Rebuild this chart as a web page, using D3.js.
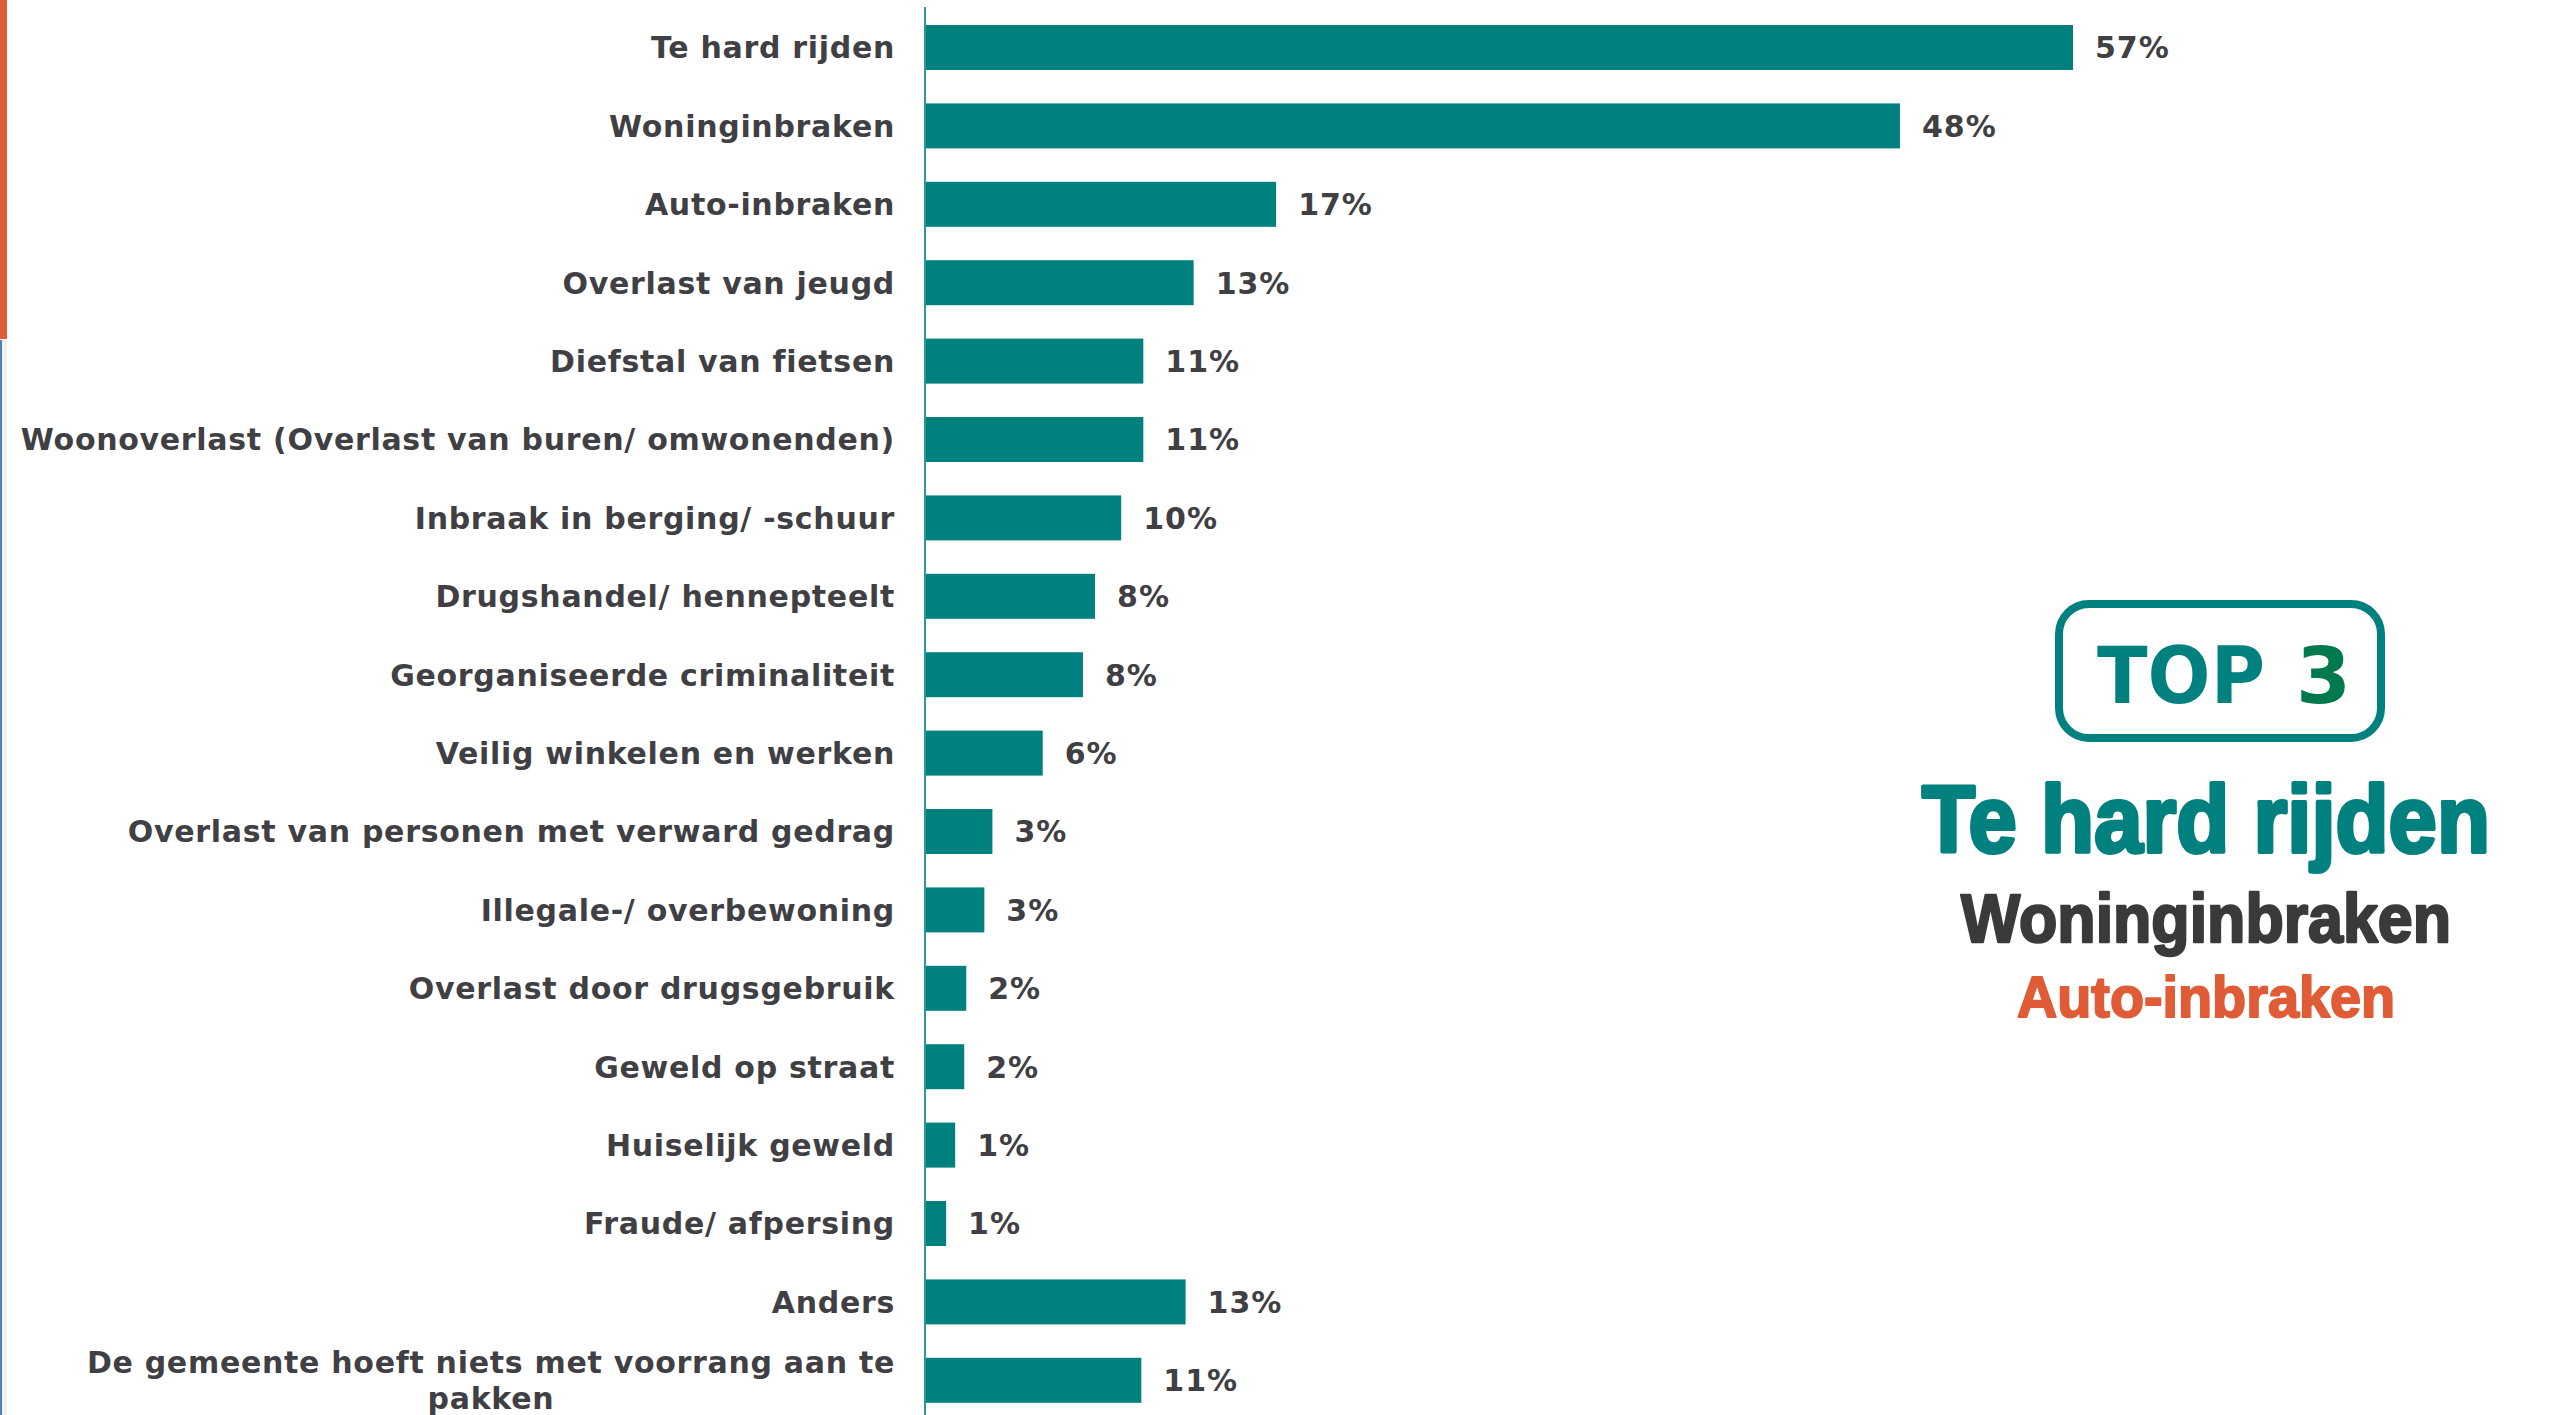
<!DOCTYPE html>
<html>
<head>
<meta charset="utf-8">
<script src="https://cdn.jsdelivr.net/npm/d3@7"></script>
<style>
  html, body { margin: 0; padding: 0; background: #fff; overflow: hidden; }
  svg { display: block; }
</style>
</head>
<body>
<div id="chart"></div>
<script>
// categories, top to bottom
const categories = [
    "Te hard rijden",
    "Woninginbraken",
    "Auto-inbraken",
    "Overlast van jeugd",
    "Diefstal van fietsen",
    "Woonoverlast (Overlast van buren/ omwonenden)",
    "Inbraak in berging/ -schuur",
    "Drugshandel/ hennepteelt",
    "Georganiseerde criminaliteit",
    "Veilig winkelen en werken",
    "Overlast van personen met verward gedrag",
    "Illegale-/ overbewoning",
    "Overlast door drugsgebruik",
    "Geweld op straat",
    "Huiselijk geweld",
    "Fraude/ afpersing",
    "Anders",
    "De gemeente hoeft niets met voorrang aan te pakken"
];

// percentages
const values = [57.0, 48.4, 17.4, 13.3, 10.8, 10.8, 9.7, 8.4, 7.8, 5.8, 3.3, 2.9, 2.0, 1.9, 1.45, 1.0, 12.9, 10.7];

// top 3 panel
const top3Title = ["TOP", "3"];
const top3Items = ["Te hard rijden", "Woninginbraken", "Auto-inbraken"];

const COLORS = {
    bar: "#00807f",
    axis: "#2a9a98",
    text: "#3f3f44",
    orange: "#e05c36",
    green: "#007a4d",
    dark: "#3a3a3a",
    edgeBlue: "#4f7fb8",
    edgeGray: "#f0f0f0"
};

const FONT = "'DejaVu Sans', Verdana, sans-serif";
const width = 2552, height = 1415;
const axisX = 926;

const svg = d3.select("#chart")
    .append("svg")
    .attr("width", width)
    .attr("height", height);

// left edge decoration
svg.append("rect").attr("x", 0).attr("y", 0).attr("width", 7).attr("height", 339)
    .attr("fill", COLORS.orange);
svg.append("rect").attr("x", 0).attr("y", 340).attr("width", 7).attr("height", height - 340)
    .attr("fill", COLORS.edgeGray);
svg.append("rect").attr("x", 0).attr("y", 340).attr("width", 2).attr("height", height - 340)
    .attr("fill", COLORS.edgeBlue);

// scales
const x = d3.scaleLinear()
    .domain([0, 57])
    .range([axisX, 2073]);

const y = d3.scaleBand()
    .domain(categories)
    .range([8.3, 8.3 + categories.length * 78.4])
    .paddingInner(0.426)
    .paddingOuter(0.213);

// bars
svg.selectAll("rect.bar")
    .data(categories)
    .enter()
    .append("rect")
    .attr("class", "bar")
    .attr("x", x(0))
    .attr("y", d => y(d))
    .attr("width", (d, i) => x(values[i]) - x(0))
    .attr("height", y.bandwidth())
    .attr("fill", COLORS.bar);

// vertical axis line
svg.append("line")
    .attr("x1", axisX - 1).attr("x2", axisX - 1)
    .attr("y1", 7).attr("y2", height)
    .attr("stroke", COLORS.axis)
    .attr("stroke-width", 2);

// value labels
svg.selectAll("text.value")
    .data(categories)
    .enter()
    .append("text")
    .attr("class", "value")
    .attr("x", (d, i) => x(values[i]) + 22)
    .attr("y", d => y(d) + y.bandwidth() / 2)
    .attr("dy", "0.36em")
    .style("font-family", FONT)
    .style("font-weight", "bold")
    .style("font-size", "30px")
    .style("letter-spacing", "1px")
    .attr("fill", COLORS.text)
    .text((d, i) => Math.round(values[i]) + "%");

// category labels (wrapped when too long, lines centred like Excel)
const labelRight = 895;
const maxLabelWidth = 885;

function styleLabel(t) {
    return t.style("font-family", FONT)
        .style("font-weight", "bold")
        .style("font-size", "30px")
        .style("letter-spacing", "0.7px");
}

const labels = svg.selectAll("g.cat")
    .data(categories)
    .enter()
    .append("g")
    .attr("class", "cat");

labels.each(function(d) {
    const g = d3.select(this);
    const cy = y(d) + y.bandwidth() / 2;
    const probe = styleLabel(g.append("text"));

    // split into lines
    const words = d.split(" ");
    const lines = [];
    let line = [];
    words.forEach(w => {
        line.push(w);
        probe.text(line.join(" "));
        if (probe.node().getComputedTextLength() > maxLabelWidth && line.length > 1) {
            line.pop();
            lines.push(line.join(" "));
            line = [w];
        }
    });
    lines.push(line.join(" "));

    const widths = lines.map(l => {
        probe.text(l);
        return probe.node().getComputedTextLength();
    });
    probe.remove();

    const lineH = 36;
    const centre = labelRight - d3.max(widths) / 2;

    lines.forEach((l, k) => {
        styleLabel(g.append("text"))
            .attr("x", lines.length > 1 ? centre : labelRight)
            .attr("y", cy + (k - (lines.length - 1) / 2) * lineH)
            .attr("dy", "0.36em")
            .attr("text-anchor", lines.length > 1 ? "middle" : "end")
            .attr("fill", COLORS.text)
            .text(l);
    });
});

//////////////////////
//    TOP 3 PANEL
//////////////////////
const panel = svg.append("g");

panel.append("rect")
    .attr("x", 2059).attr("y", 604)
    .attr("width", 322).attr("height", 134)
    .attr("rx", 30).attr("ry", 30)
    .attr("fill", "none")
    .attr("stroke", COLORS.bar)
    .attr("stroke-width", 8);

panel.append("text")
    .attr("x", 2097)
    .attr("y", 703)
    .attr("textLength", 168)
    .attr("lengthAdjust", "spacingAndGlyphs")
    .style("font-family", FONT)
    .style("font-weight", "bold")
    .style("font-size", "79px")
    .attr("fill", COLORS.bar)
    .text(top3Title[0]);

panel.append("text")
    .attr("x", 2296)
    .attr("y", 703)
    .style("font-family", FONT)
    .style("font-weight", "bold")
    .style("font-size", "79px")
    .attr("fill", COLORS.green)
    .text(top3Title[1]);

const top3Style = [
    { y: 852, size: 94, len: 568, color: COLORS.bar, stroke: 4 },
    { y: 942, size: 68, len: 490, color: COLORS.dark, stroke: 2.5 },
    { y: 1017, size: 58, len: 378, color: COLORS.orange, stroke: 2 }
];

panel.selectAll("text.item")
    .data(top3Items)
    .enter()
    .append("text")
    .attr("class", "item")
    .attr("x", 2206)
    .attr("y", (d, i) => top3Style[i].y)
    .attr("text-anchor", "middle")
    .attr("textLength", (d, i) => top3Style[i].len)
    .attr("lengthAdjust", "spacingAndGlyphs")
    .style("font-family", "'Liberation Sans Narrow', 'Liberation Sans', Arial, sans-serif")
    .style("font-weight", "bold")
    .style("font-size", (d, i) => top3Style[i].size + "px")
    .attr("fill", (d, i) => top3Style[i].color)
    .attr("stroke", (d, i) => top3Style[i].color)
    .attr("stroke-width", (d, i) => top3Style[i].stroke)
    .attr("stroke-linejoin", "round")
    .text(d => d);
</script>
</body>
</html>
